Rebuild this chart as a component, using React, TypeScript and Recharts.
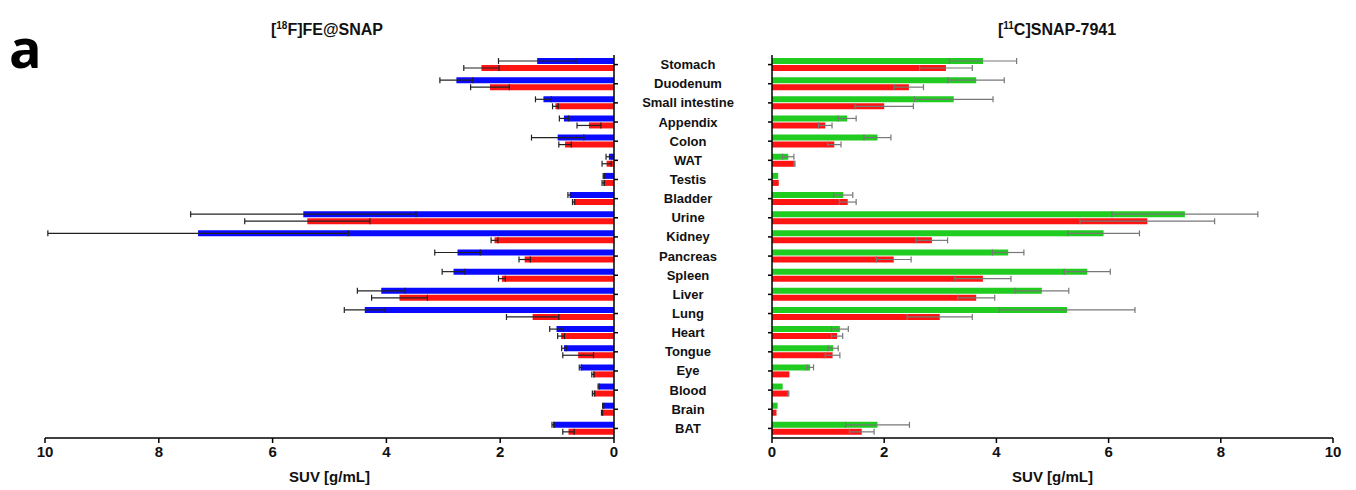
import { BarChart, Bar, XAxis, YAxis, ErrorBar, Label } from "recharts";

const ORGANS = [
  "Stomach", "Duodenum", "Small intestine", "Appendix", "Colon", "WAT", "Testis",
  "Bladder", "Urine", "Kidney", "Pancreas", "Spleen", "Liver", "Lung", "Heart",
  "Tongue", "Eye", "Blood", "Brain", "BAT",
];

// [18F]FE@SNAP (left panel)
const FE_BLUE = [1.35, 2.77, 1.24, 0.88, 0.99, 0.09, 0.18, 0.78, 5.46, 7.31, 2.75, 2.82, 4.09, 4.38, 1.01, 0.88, 0.59, 0.27, 0.19, 1.07];
const FE_BLUE_ERR = [0.68, 0.29, 0.14, 0.08, 0.46, 0.05, 0.01, 0.03, 1.98, 2.64, 0.4, 0.2, 0.42, 0.36, 0.12, 0.04, 0.02, 0.01, 0.01, 0.02];
const FE_RED = [2.33, 2.18, 1.03, 0.44, 0.86, 0.13, 0.19, 0.71, 5.39, 2.1, 1.57, 1.97, 3.77, 1.43, 0.93, 0.63, 0.37, 0.36, 0.21, 0.8];
const FE_RED_ERR = [0.31, 0.34, 0.05, 0.21, 0.11, 0.08, 0.02, 0.02, 1.1, 0.06, 0.1, 0.06, 0.49, 0.46, 0.06, 0.27, 0.02, 0.02, 0.01, 0.1];

// [11C]SNAP-7941 (right panel)
const SNAP_GREEN = [3.76, 3.64, 3.24, 1.34, 1.88, 0.29, 0.11, 1.27, 7.36, 5.91, 4.21, 5.62, 4.81, 5.26, 1.21, 1.09, 0.68, 0.19, 0.1, 1.88];
const SNAP_GREEN_ERR = [0.6, 0.5, 0.7, 0.16, 0.24, 0.1, 0, 0.17, 1.3, 0.64, 0.28, 0.41, 0.48, 1.21, 0.15, 0.09, 0.06, 0, 0, 0.57];
const SNAP_RED = [3.1, 2.44, 2.0, 0.95, 1.11, 0.4, 0.12, 1.35, 6.69, 2.85, 2.17, 3.76, 3.64, 2.99, 1.16, 1.08, 0.31, 0.29, 0.08, 1.6];
const SNAP_RED_ERR = [0.47, 0.26, 0.52, 0.12, 0.12, 0.01, 0, 0.15, 1.2, 0.28, 0.31, 0.5, 0.33, 0.58, 0.1, 0.13, 0, 0.01, 0, 0.22];

const X_TICKS = [0, 2, 4, 6, 8, 10];

const feData = ORGANS.map((name, i) => ({
  name,
  blue: FE_BLUE[i],
  blueErr: FE_BLUE_ERR[i],
  red: FE_RED[i],
  redErr: FE_RED_ERR[i],
}));

const snapData = ORGANS.map((name, i) => ({
  name,
  green: SNAP_GREEN[i],
  greenErr: SNAP_GREEN_ERR[i],
  red: SNAP_RED[i],
  redErr: SNAP_RED_ERR[i],
}));

const FONT = "'Liberation Sans', Arial, sans-serif";
const BLUE = "#0a0aff";
const RED = "#ff1414";
const GREEN = "#1fcc1f";
const axisLine = { stroke: "#000", strokeWidth: 1.5 };
const tickFont = { fontFamily: FONT, fontWeight: 700, fontSize: 15, fill: "#111" };

function OrganTick(props: any) {
  return (
    <text
      x={58}
      y={props.y}
      textAnchor="middle"
      dominantBaseline="central"
      fontFamily={FONT}
      fontWeight={700}
      fontSize={13}
      fill="#111"
    >
      {props.payload.value}
    </text>
  );
}

function Title({ left, children }: { left: number; children: any }) {
  return (
    <div
      style={{
        position: "absolute",
        left,
        top: 20,
        transform: "translateX(-50%)",
        fontFamily: FONT,
        fontWeight: 700,
        fontSize: 16,
        whiteSpace: "nowrap",
        color: "#111",
      }}
    >
      {children}
    </div>
  );
}

export default function App() {
  return (
    <div style={{ position: "absolute", left: 0, top: 0, width: 1356, height: 490, background: "#fff" }}>
      <div
        style={{
          position: "absolute",
          left: 9,
          top: 17,
          fontFamily: "'Open Sans', sans-serif",
          fontWeight: 700,
          fontSize: 54,
          lineHeight: "60px",
          color: "#000",
        }}
      >
        a
      </div>
      <Title left={327}>
        [<sup style={{ fontSize: 10 }}>18</sup>F]FE@SNAP
      </Title>
      <Title left={1057}>
        [<sup style={{ fontSize: 10 }}>11</sup>C]SNAP-7941
      </Title>

      <div style={{ position: "absolute", left: 0, top: 0 }}>
        <BarChart
          width={680}
          height={490}
          data={feData}
          layout="vertical"
          barSize={6}
          barGap={1}
          margin={{ top: 55, right: 56, bottom: 8, left: 45 }}
        >
          <XAxis
            type="number"
            domain={[0, 10]}
            ticks={X_TICKS}
            reversed
            height={44}
            tickSize={5}
            tickMargin={3}
            axisLine={axisLine}
            tickLine={axisLine}
            tick={tickFont}
          >
            <Label value="SUV [g/mL]" position="insideBottom" offset={0} style={tickFont} />
          </XAxis>
          <YAxis
            type="category"
            dataKey="name"
            orientation="right"
            width={10}
            interval={0}
            tickSize={4}
            axisLine={axisLine}
            tickLine={axisLine}
            tick={() => <g />}
          />
          <Bar dataKey="blue" fill={BLUE} isAnimationActive={false}>
            <ErrorBar dataKey="blueErr" direction="x" width={3} stroke="#222" strokeWidth={1.2} />
          </Bar>
          <Bar dataKey="red" fill={RED} isAnimationActive={false}>
            <ErrorBar dataKey="redErr" direction="x" width={3} stroke="#222" strokeWidth={1.2} />
          </Bar>
        </BarChart>
      </div>

      <div style={{ position: "absolute", left: 630, top: 0 }}>
        <BarChart
          width={726}
          height={490}
          data={snapData}
          layout="vertical"
          barSize={6}
          barGap={1}
          margin={{ top: 55, right: 23, bottom: 8, left: 0 }}
        >
          <XAxis
            type="number"
            domain={[0, 10]}
            ticks={X_TICKS}
            height={44}
            tickSize={5}
            tickMargin={3}
            axisLine={axisLine}
            tickLine={axisLine}
            tick={tickFont}
          >
            <Label value="SUV [g/mL]" position="insideBottom" offset={0} style={tickFont} />
          </XAxis>
          <YAxis
            type="category"
            dataKey="name"
            width={142}
            interval={0}
            tickSize={4}
            axisLine={axisLine}
            tickLine={axisLine}
            tick={OrganTick}
          />
          <Bar dataKey="green" fill={GREEN} isAnimationActive={false}>
            <ErrorBar dataKey="greenErr" direction="x" width={3} stroke="#777" strokeWidth={1.2} />
          </Bar>
          <Bar dataKey="red" fill={RED} isAnimationActive={false}>
            <ErrorBar dataKey="redErr" direction="x" width={3} stroke="#777" strokeWidth={1.2} />
          </Bar>
        </BarChart>
      </div>
    </div>
  );
}
